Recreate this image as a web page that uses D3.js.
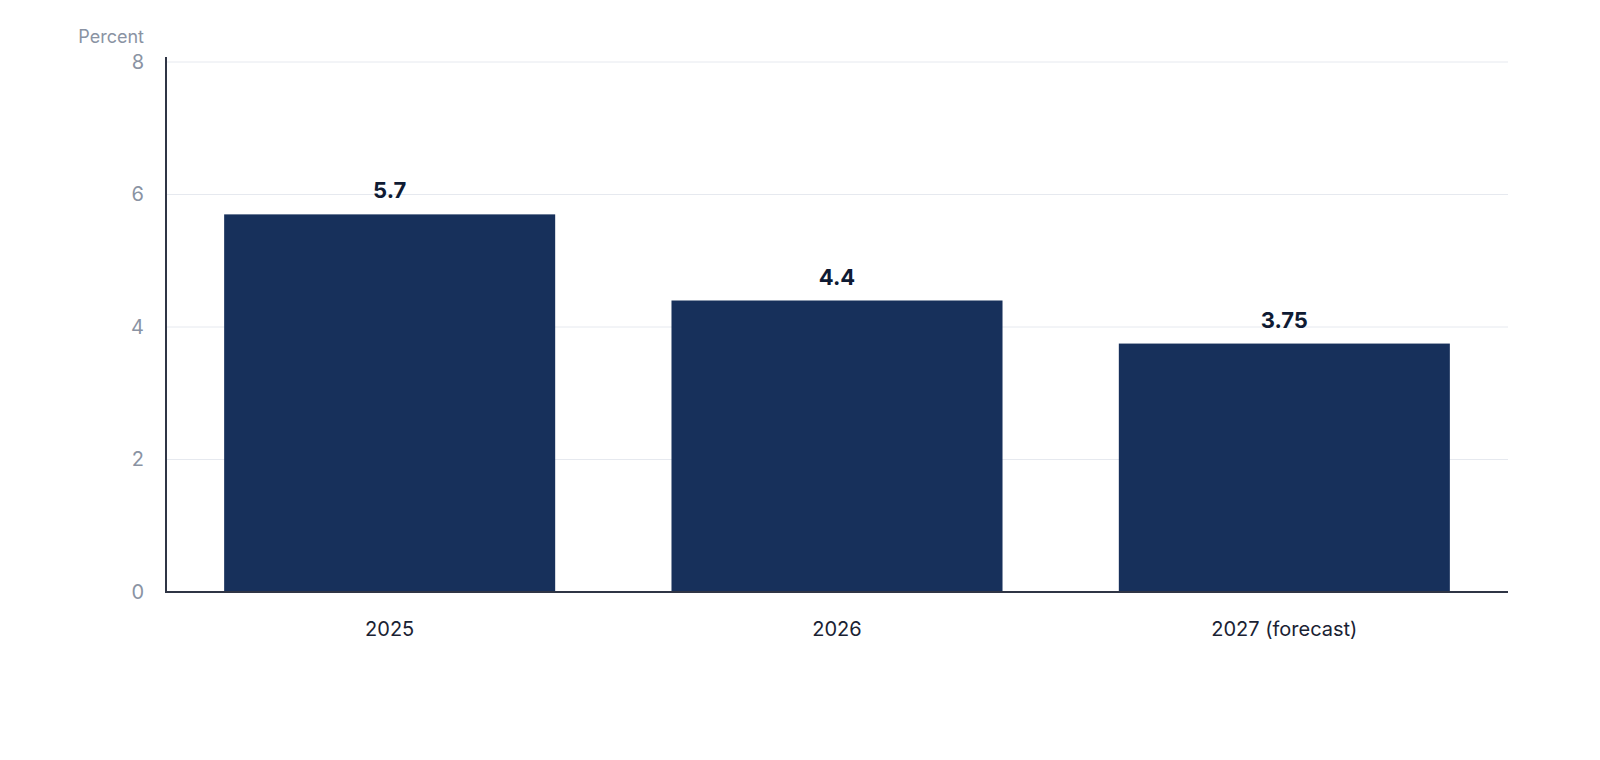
<!DOCTYPE html>
<html><head><meta charset="utf-8">
<script src="https://cdn.jsdelivr.net/npm/d3@7"></script>
<style>body{margin:0;background:#fff;font-family:Inter,"Noto Sans",sans-serif;}</style>
</head><body><svg id="c" width="1600" height="760"></svg>
<script>
var categories = ["2025", "2026", "2027 (forecast)"];
var values = [5.7, 4.4, 3.75];
var valueLabels = ["5.7", "4.4", "3.75"];
var yTicks = [0, 2, 4, 6, 8];

var svg = d3.select("#c"),
    plotLeft = 166, plotRight = 1508, plotTop = 62, plotBottom = 592;

var x = d3.scaleBand().domain(categories).range([plotLeft, plotRight])
    .paddingInner(0.26).paddingOuter(0.13);
var y = d3.scaleLinear().domain([0, 8]).range([plotBottom, plotTop]);

// grid
svg.append("g").selectAll("line").data(yTicks.filter(function (d) { return d > 0; }))
  .enter().append("line")
    .attr("x1", plotLeft).attr("x2", plotRight)
    .attr("y1", y).attr("y2", y)
    .attr("stroke", "#e6e9ef").attr("stroke-width", 1);

// bars
svg.append("g").selectAll("rect").data(values).enter().append("rect")
    .attr("x", function (d, i) { return x(categories[i]); })
    .attr("width", x.bandwidth())
    .attr("y", y)
    .attr("height", function (d) { return y(0) - y(d); })
    .attr("fill", "#17305b");

svg.append("g").selectAll("text").data(values).enter().append("text")
    .attr("x", function (d, i) { return x(categories[i]) + x.bandwidth() / 2; })
    .attr("y", function (d) { return y(d) - 16; })
    .attr("text-anchor", "middle")
    .attr("font-size", 22).attr("font-weight", 700).attr("fill", "#0f1b33")
    .text(function (d, i) { return valueLabels[i]; });

// y axis
var yAxis = svg.append("g").attr("transform", "translate(" + plotLeft + ",0)")
    .call(d3.axisLeft(y).tickValues(yTicks).tickSize(0).tickPadding(22));
yAxis.select(".domain").remove();
yAxis.selectAll("text").attr("font-size", 20).attr("fill", "#8a93a3")
    .attr("font-family", "Inter,'Noto Sans',sans-serif");

// x axis
var xAxis = svg.append("g").attr("transform", "translate(0," + plotBottom + ")")
    .call(d3.axisBottom(x).tickSize(0).tickPadding(30));
xAxis.select(".domain").remove();
xAxis.selectAll("text").attr("font-size", 20).attr("fill", "#1a2233")
    .attr("font-family", "Inter,'Noto Sans',sans-serif");

// axis lines
svg.append("line").attr("x1", plotLeft).attr("x2", plotLeft).attr("y1", 57).attr("y2", plotBottom + 1)
    .attr("stroke", "#2f3545").attr("stroke-width", 2);
svg.append("line").attr("x1", plotLeft - 1).attr("x2", plotRight).attr("y1", plotBottom).attr("y2", plotBottom)
    .attr("stroke", "#2f3545").attr("stroke-width", 2);

svg.append("text").attr("x", 144).attr("y", 43).attr("text-anchor", "end")
    .attr("font-size", 18).attr("fill", "#8a93a3").text("Percent");
</script></body></html>
